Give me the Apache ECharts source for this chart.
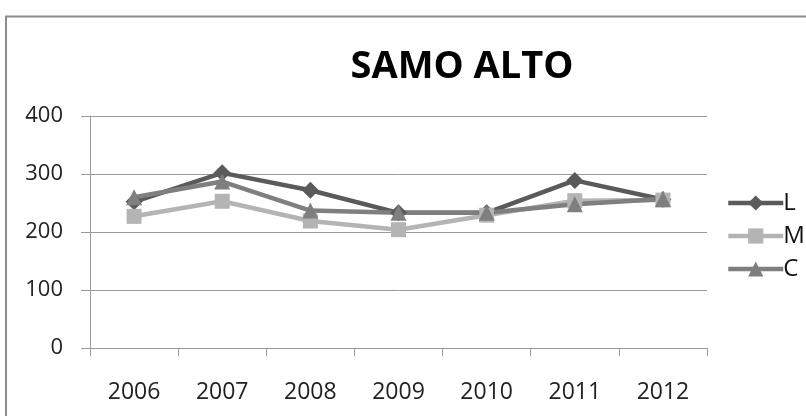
<!DOCTYPE html>
<html>
<head>
<meta charset="utf-8">
<script src="https://cdn.jsdelivr.net/npm/echarts@6/dist/echarts.min.js"></script>
<style>
  html, body { margin: 0; padding: 0; background: #fff; }
  #main { width: 806px; height: 416px; }
</style>
</head>
<body>
<div id="main"></div>
<script>
var years = ['2006', '2007', '2008', '2009', '2010', '2011', '2012'];
var valuesL = [252, 302, 272, 233, 233, 289, 256];
var valuesM = [227, 253, 219, 204, 229, 254, 255];
var valuesC = [260, 287, 237, 233, 233, 248, 257];
var yTicks = [0, 100, 200, 300, 400];

var chart = echarts.init(document.getElementById('main'));

var lineSeries = function(name, data, color, symbol, size){
	return {
		name: name,
		type: 'line',
		data: data,
		symbol: symbol,
		symbolSize: size,
		lineStyle: { color: color, width: 4.5 },
		itemStyle: { color: color },
		emphasis: { disabled: true }
	};
};

var option = {
	animation: false,
	title: {
		text: 'SAMO ALTO',
		left: 457,
		top: 43,
		textAlign: 'center',
		textStyle: { fontFamily: 'Open Sans', fontSize: 38, fontWeight: 'bold', color: '#000' }
	},
	graphic: [{
		type: 'rect',
		shape: { x: 6, y: 16.5, width: 820, height: 420 },
		style: { fill: null, stroke: '#8c8c8c', lineWidth: 2 },
		silent: true
	}],
	legend: {
		orient: 'vertical',
		left: 726,
		top: 191,
		padding: 0,
		itemGap: 9,
		itemWidth: 55,
		itemHeight: 19,
		lineStyle: { width: 4.5 },
		textStyle: { fontFamily: 'Open Sans', fontSize: 24, lineHeight: 24, color: '#111', padding: [0, 0, 0, -5] },
		data: ['L', 'M', 'C']
	},
	grid: { left: 90, right: 99, top: 116, bottom: 68 },
	xAxis: {
		type: 'category',
		data: years,
		boundaryGap: true,
		axisLine: { lineStyle: { color: '#9a9a9a', width: 1 } },
		axisTick: { show: true, inside: false, length: 8, lineStyle: { color: '#9a9a9a' } },
		axisLabel: { fontFamily: 'Open Sans', fontSize: 23, color: '#222', margin: 33 }
	},
	yAxis: {
		type: 'value',
		min: yTicks[0],
		max: yTicks[yTicks.length - 1],
		interval: 100,
		axisLine: { show: true, lineStyle: { color: '#9a9a9a', width: 1 } },
		axisTick: { show: true, length: 9, lineStyle: { color: '#9a9a9a' } },
		axisLabel: { fontFamily: 'Open Sans', fontSize: 22, color: '#222', margin: 27 },
		splitLine: { show: true, lineStyle: { color: '#9a9a9a', width: 1 } }
	},
	series: [
		lineSeries('L', valuesL, '#5a5a5a', 'diamond', 17),
		lineSeries('M', valuesM, '#b4b4b4', 'rect', 15),
		lineSeries('C', valuesC, '#7f7f7f', 'triangle', 16)
	]
};

chart.setOption(option);
</script>
</body>
</html>
